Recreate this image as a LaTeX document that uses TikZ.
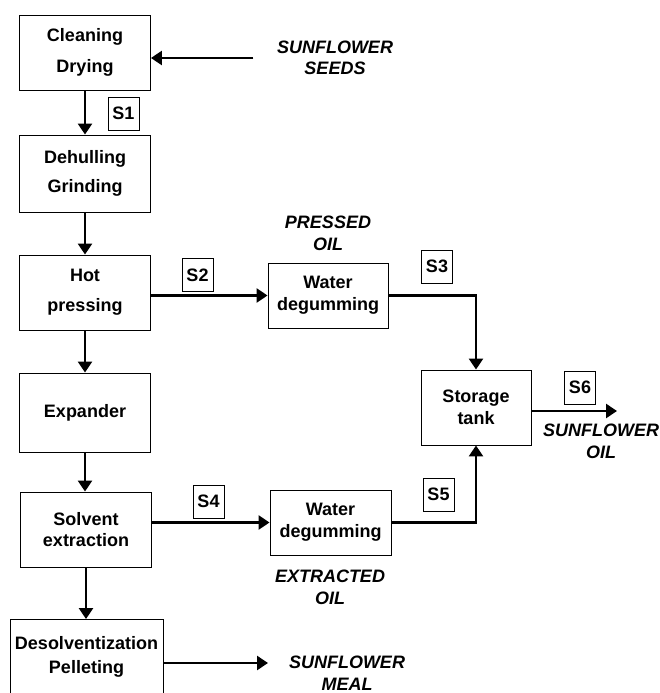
\documentclass[tikz,border=0pt]{standalone}
\usepackage{fontspec}
\setmainfont{Liberation Sans}
\usetikzlibrary{arrows.meta}

\begin{document}
\begin{tikzpicture}
[x=1pt,y=-1pt,%
  every node/.style={font=\bfseries\fontsize{18}{21.6}\selectfont,align=center},%
  procbox/.style={draw,line width=0.9pt,inner sep=1pt,minimum height=75pt},%
  tagbox/.style={draw,line width=0.9pt,inner sep=0pt,minimum width=31pt,minimum height=33pt},%
  stream/.style={font=\bfseries\itshape\fontsize{18}{21.6}\selectfont},%
  flow/.style={line width=2.6pt,-{Triangle[length=11pt,width=14pt]}}]
\useasboundingbox (0,0) rectangle (659,693);
%% left column
\node[procbox,minimum width=131pt] (clean) at (85,52.5) {Cleaning\\[9pt]Drying};
\node[procbox,minimum width=131pt,minimum height=77pt] (dehull) at (85,173.5) {Dehulling\\[8pt]Grinding};
\node[procbox,minimum width=131pt] (hotpress) at (85,292.5) {Hot\\[8pt]pressing};
\node[procbox,minimum width=131pt,minimum height=79pt] (expander) at (85,412.5) {Expander};
\node[procbox,minimum width=131pt] (solvent) at (86,529.5) {Solvent\\extraction};
\node[procbox,minimum width=153pt] (desolv) at (86.5,657) {Desolventization\\[2pt]Pelleting};
%% oil line
\node[procbox,minimum width=120pt,minimum height=65pt] (wdA) at (328,295.5) {Water\\degumming};
\node[procbox,minimum width=121pt,minimum height=65pt] (wdB) at (330.5,522.5) {Water\\degumming};
\node[procbox,minimum width=110pt] (storage) at (476,407.5) {Storage\\tank};
%% streams
\node[stream] (seeds) at (335,58) {SUNFLOWER\\SEEDS};
\node[stream] (pressed) at (328,233.5) {PRESSED\\OIL};
\node[stream] (extracted) at (330,587) {EXTRACTED\\OIL};
\node[stream] (oilout) at (601,441.5) {SUNFLOWER\\OIL};
\node[stream] (meal) at (347,673) {SUNFLOWER\\MEAL};
\coordinate (oiltip) at (617,411);
\coordinate (mealtip) at (268,663);
%% sample points
\node[tagbox] (sA) at (123.5,113.5) {S1};
\node[tagbox] (sB) at (197.5,275) {S2};
\node[tagbox] (sC) at (437,266.5) {S3};
\node[tagbox] (sD) at (208.5,501.5) {S4};
\node[tagbox] (sE) at (438.5,494.5) {S5};
\node[tagbox] (sF) at (580,387.5) {S6};
%% connectors
\draw[flow] ([xshift=-20pt]seeds.west) -- (seeds.west -| clean.east);
\foreach \fromNode/\toNode in {clean/dehull, dehull/hotpress, hotpress/expander,
  expander/solvent, solvent/desolv}
{
  \draw[flow] (\fromNode.south) -- (\fromNode.south |- \toNode.north);
}
\draw[flow] (wdA.west -| hotpress.east) -- (wdA.west);
\draw[flow] (wdB.west -| solvent.east) -- (wdB.west);
\draw[flow] (wdA.east) -| (storage.north);
\draw[flow] (wdB.east) -| (storage.south);
\draw[flow] (oiltip -| storage.east) -- (oiltip);
\draw[flow] (mealtip -| desolv.east) -- (mealtip);
\end{tikzpicture}
\end{document}
